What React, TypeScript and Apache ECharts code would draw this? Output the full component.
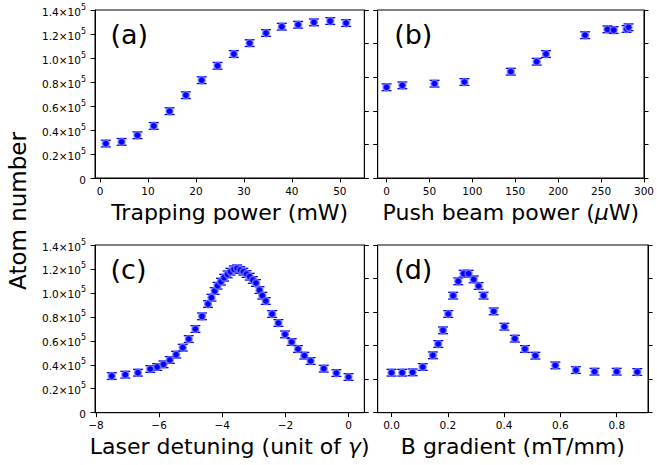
import React, { useEffect, useRef } from 'react';
import * as echarts from 'echarts';

const FONT = 'DejaVu Sans';

// Panel (a): trapping power (mW)
const A_X = [1.2, 4.5, 7.8, 11.2, 14.5, 17.9, 21.2, 24.5, 27.9, 31.2, 34.6, 37.9, 41.3, 44.6, 48.0, 51.3];
const A_Y = [28700, 30100, 35600, 43400, 55700, 69000, 81500, 93500, 103300, 112400, 120800, 126100, 127700, 129700, 130800, 129100];
const A_ERR = [2800, 2800, 2800, 2800, 2800, 2800, 2800, 2800, 2800, 2800, 2800, 2800, 2800, 2800, 2800, 2800];

// Panel (b): push beam power (uW)
const B_X = [0, 18.4, 55.9, 90.8, 144.8, 175, 185.8, 231.4, 257.4, 264.7, 279.7, 282];
const B_Y = [75600, 77200, 78600, 80000, 88600, 96900, 103300, 119000, 123900, 123300, 124200, 125600];
const B_ERR = [2800, 2800, 2800, 2800, 2800, 2800, 2800, 2800, 2800, 2800, 2800, 2800];

// Panel (c): laser detuning (unit of gamma)
const C_X = [-7.5, -7.07, -6.67, -6.28, -6.06, -5.86, -5.66, -5.46, -5.25, -5.06, -4.85, -4.64, -4.45, -4.34, -4.24, -4.15, -4.04, -3.94, -3.83, -3.74, -3.63, -3.53, -3.43, -3.33, -3.23, -3.13, -3.03, -2.93, -2.82, -2.73, -2.62, -2.42, -2.22, -2.01, -1.8, -1.6, -1.4, -1.2, -0.785, -0.384, 0];
const C_Y = [30600, 31750, 33400, 36500, 38150, 40400, 44000, 48450, 54300, 61500, 69900, 80450, 90700, 96000, 101600, 106000, 109400, 112700, 115500, 117700, 119700, 120500, 119100, 117700, 115800, 113550, 110800, 108300, 102400, 97700, 93250, 82400, 74900, 65400, 59000, 53200, 47600, 43160, 36760, 33100, 29800];
const C_ERR = [2800, 2800, 2800, 2800, 2800, 2800, 2800, 2800, 2800, 2800, 2800, 2800, 2800, 2800, 2800, 2800, 2800, 2800, 2800, 2800, 2800, 2800, 2800, 2800, 2800, 2800, 2800, 2800, 2800, 2800, 2800, 2800, 2800, 2800, 2800, 2800, 2800, 2800, 2800, 2800, 2800];

// Panel (d): B gradient (mT/mm)
const D_X = [0, 0.038, 0.075, 0.111, 0.147, 0.166, 0.183, 0.2015, 0.219, 0.237, 0.256, 0.274, 0.292, 0.3095, 0.327, 0.363, 0.401, 0.438, 0.474, 0.511, 0.582, 0.655, 0.721, 0.8, 0.873];
const D_Y = [33400, 33400, 33700, 38150, 47900, 57350, 68760, 82400, 97700, 109670, 116070, 116070, 111300, 105800, 97700, 84600, 71800, 61800, 53200, 47600, 39500, 35600, 34250, 34250, 34000];
const D_ERR = [2800, 2800, 2800, 2800, 2800, 2800, 2800, 2800, 2800, 2800, 2800, 2800, 2800, 2800, 2800, 2800, 2800, 2800, 2800, 2800, 2800, 2800, 2800, 2800, 2800];

const A_TICKS = [0, 10, 20, 30, 40, 50];
const B_TICKS = [0, 50, 100, 150, 200, 250, 300];
const C_TICKS = [-8, -6, -4, -2, 0];
const D_TICKS = [0, 0.2, 0.4, 0.6, 0.8];

const X_NAMES = ['Trapping power (mW)', 'Push beam power ({i|μ}W)', 'Laser detuning (unit of {i|γ})', 'B gradient (mT/mm)'];
const X_RANGES: [number, number][] = [[-1.05, 55.1], [-10.3, 300], [-8.03, 0.5], [-0.049, 0.911]];
const PANEL_LABELS = ['(a)', '(b)', '(c)', '(d)'];

const GRIDS = [
  { left: 95, top: 10, width: 269.3, height: 168 },
  { left: 377.7, top: 10, width: 270.3, height: 168 },
  { left: 95, top: 245, width: 269.3, height: 167.7 },
  { left: 377.7, top: 245, width: 270.3, height: 167.7 },
];

const fmtY = (v: number) => (v === 0 ? '{n|0}' : '{n|' + (v / 1e5).toFixed(1) + '×10}{s|5}');
const fmtX = [
  (v: number) => String(v),
  (v: number) => String(v),
  (v: number) => (v < 0 ? '−' + Math.abs(v) : String(v)),
  (v: number) => v.toFixed(1),
];

export default function App() {
  const ref = useRef<HTMLDivElement>(null);
  useEffect(() => {
    if (!ref.current) return;
    const chart = echarts.init(ref.current, null, { renderer: 'svg' });
    const xs = [A_X, B_X, C_X, D_X];
    const ys = [A_Y, B_Y, C_Y, D_Y];
    const es = [A_ERR, B_ERR, C_ERR, D_ERR];
    const ticks = [A_TICKS, B_TICKS, C_TICKS, D_TICKS];

    const lineStyle = { color: '#000', width: 1 };
    const xAxis = GRIDS.map((_, i) => ({
      type: 'value',
      gridIndex: i,
      min: X_RANGES[i][0],
      max: X_RANGES[i][1],
      name: X_NAMES[i],
      nameLocation: 'middle',
      nameGap: 23,
      nameTextStyle: {
        fontFamily: FONT,
        fontSize: 22,
        color: '#000',
        rich: { i: { fontFamily: FONT, fontSize: 22, fontStyle: 'italic', color: '#000' } },
      },
      axisLine: { show: true, onZero: false, lineStyle },
      axisTick: { show: true, length: 4.5, lineStyle, customValues: ticks[i] },
      axisLabel: {
        show: true,
        margin: 7,
        fontFamily: FONT,
        fontSize: 10.5,
        color: '#000',
        customValues: ticks[i],
        formatter: fmtX[i],
      },
      splitLine: { show: false },
    }));

    const yAxis: any[] = [];
    GRIDS.forEach((_, i) => {
      const labeled = i === 0 || i === 2;
      yAxis.push({
        type: 'value',
        gridIndex: i,
        position: 'left',
        min: 0,
        max: 140000,
        interval: labeled ? 20000 : 28000,
        axisLine: { show: true, onZero: false, lineStyle },
        axisTick: { show: true, length: 4.5, lineStyle },
        axisLabel: {
          show: labeled,
          margin: 9,
          fontFamily: FONT,
          fontSize: 10.5,
          color: '#000',
          formatter: fmtY,
          rich: {
            n: { fontFamily: FONT, fontSize: 10.5, color: '#000', lineHeight: 14, verticalAlign: 'bottom' },
            s: { fontFamily: FONT, fontSize: 8, color: '#000', lineHeight: 9, verticalAlign: 'top' },
          },
        },
        splitLine: { show: false },
      });
      yAxis.push({
        type: 'value',
        gridIndex: i,
        position: 'right',
        min: 0,
        max: 140000,
        interval: 28000,
        axisLine: { show: true, onZero: false, lineStyle },
        axisTick: { show: true, length: 4.5, lineStyle },
        axisLabel: { show: false },
        splitLine: { show: false },
      });
    });

    const series: any[] = [];
    GRIDS.forEach((_, i) => {
      const data = xs[i].map((x, k) => [x, ys[i][k], es[i][k]]);
      series.push({
        type: 'custom',
        xAxisIndex: i,
        yAxisIndex: 2 * i,
        encode: { x: 0, y: 1 },
        data,
        z: 2,
        renderItem: (params: any, api: any) => {
          const x = api.value(0);
          const y = api.value(1);
          const e = api.value(2);
          const top = api.coord([x, y + e]);
          const bot = api.coord([x, y - e]);
          const w = 5;
          const style = { stroke: '#0000ff', lineWidth: 1.3, fill: 'none' };
          return {
            type: 'group',
            children: [
              { type: 'line', shape: { x1: top[0], y1: top[1], x2: bot[0], y2: bot[1] }, style },
              { type: 'line', shape: { x1: top[0] - w, y1: top[1], x2: top[0] + w, y2: top[1] }, style },
              { type: 'line', shape: { x1: bot[0] - w, y1: bot[1], x2: bot[0] + w, y2: bot[1] }, style },
            ],
          };
        },
      });
      series.push({
        type: 'scatter',
        xAxisIndex: i,
        yAxisIndex: 2 * i,
        data: data.map((d) => [d[0], d[1]]),
        symbol: 'circle',
        symbolSize: 7,
        z: 3,
        itemStyle: { color: '#0000ff', borderColor: 'rgba(120,120,255,0.75)', borderWidth: 1.6, opacity: 1 },
        emphasis: { disabled: true },
      });
    });

    const graphic: any[] = PANEL_LABELS.map((t, i) => ({
      type: 'text',
      x: GRIDS[i].left + (i % 2 === 0 ? 15.5 : 16.5),
      y: GRIDS[i].top + 24.5,
      style: { text: t, fontFamily: FONT, fontSize: 27, fill: '#000', textAlign: 'left', textVerticalAlign: 'middle' },
    }));
    graphic.push({
      type: 'text',
      x: 18,
      y: 211,
      rotation: Math.PI / 2,
      style: { text: 'Atom number', fontFamily: FONT, fontSize: 23, fill: '#000', textAlign: 'center', textVerticalAlign: 'middle' },
    });

    chart.setOption({
      animation: false,
      backgroundColor: '#fff',
      grid: GRIDS.map((g) => ({ ...g, show: true, borderColor: '#000', borderWidth: 1, backgroundColor: 'transparent', containLabel: false })),
      xAxis,
      yAxis,
      series,
      graphic,
    });
    return () => chart.dispose();
  }, []);
  return <div ref={ref} style={{ position: 'fixed', left: 0, top: 0, width: 657, height: 465 }} />;
}
